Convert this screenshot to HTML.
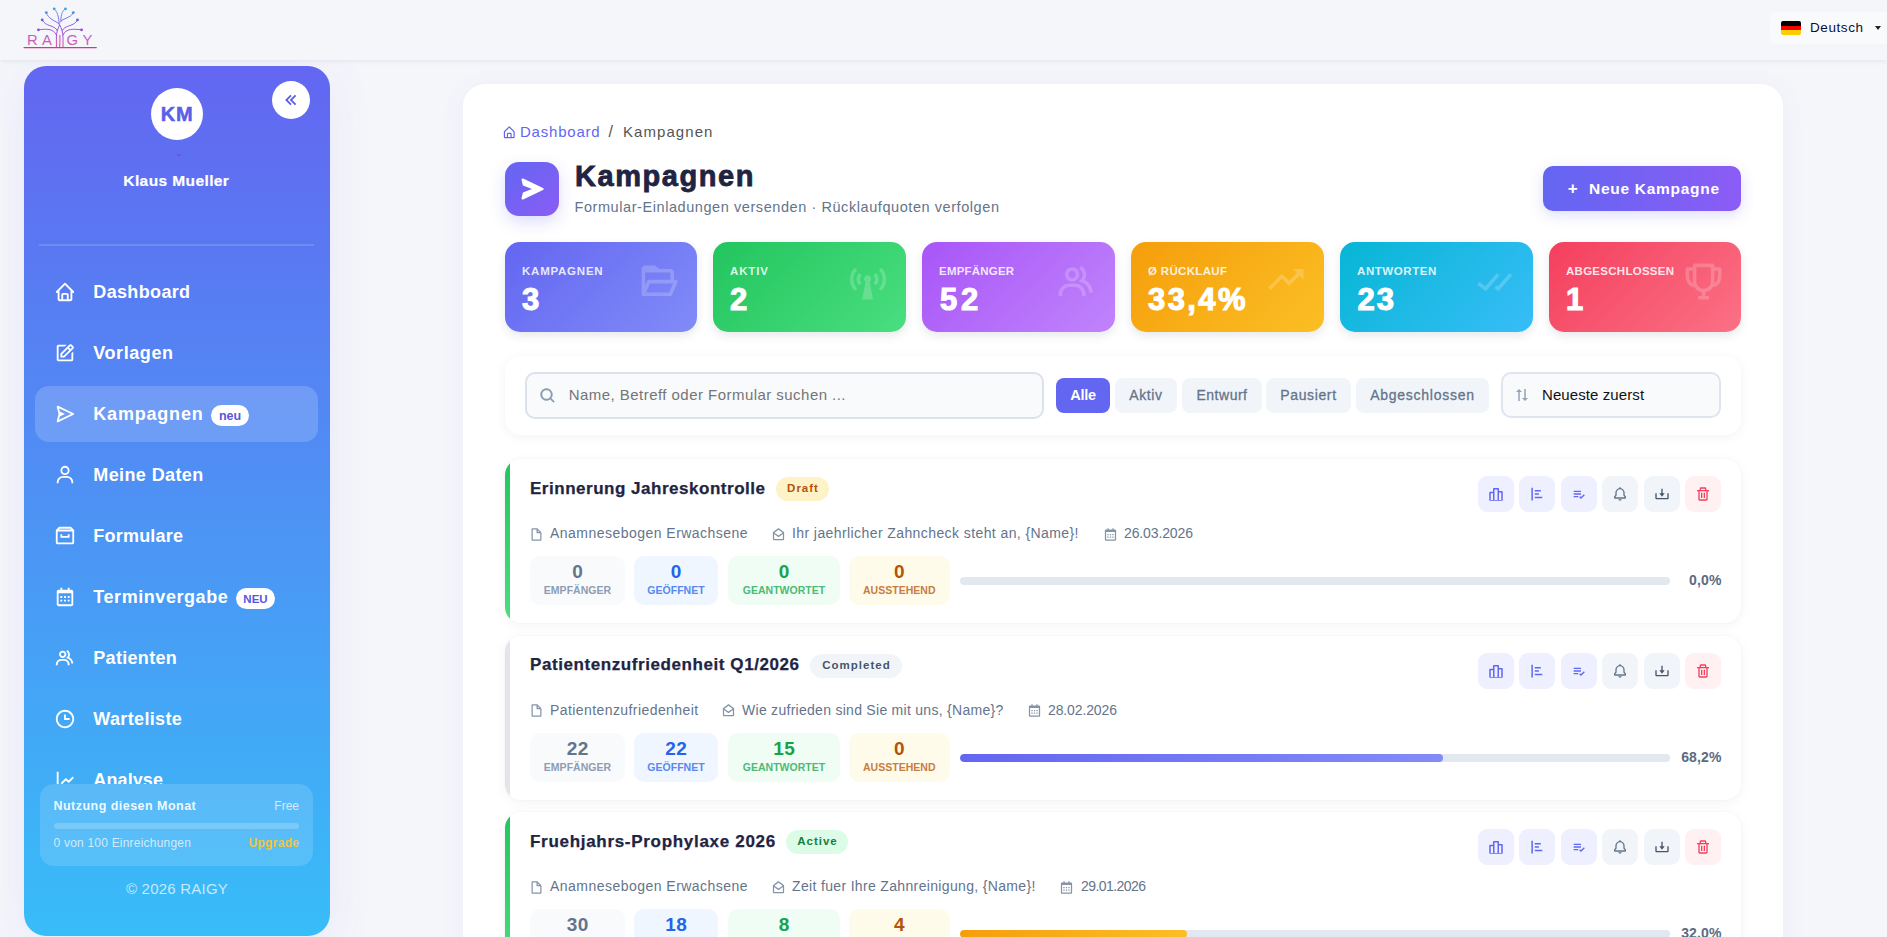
<!DOCTYPE html>
<html lang="de">
<head>
<meta charset="utf-8">
<title>Kampagnen – RAIGY</title>
<style>
*{box-sizing:border-box;margin:0;padding:0}
html,body{width:1887px;height:937px;overflow:hidden}
body{background:#f5f6fa;font-family:"Liberation Sans",sans-serif;color:#1e2442;position:relative}
.abs{position:absolute}
svg{display:block}
/* header */
#hdr{position:absolute;left:0;top:0;width:1887px;height:60px;background:#f5f6fa;box-shadow:0 1px 5px rgba(40,40,90,.09);z-index:2}
#logo{position:absolute;left:0;top:0}
#lang{position:absolute;left:1770px;top:12px;width:130px;height:32px;background:#f9fafb;border-radius:6px}
#lang .flag{position:absolute;left:11px;top:9px;width:20px;height:14px;border-radius:2px;overflow:hidden}
#lang .flag i{display:block;height:4.67px}
#lang span{position:absolute;left:40px;top:6.600px;font-size:13.5px;color:#0b1030;letter-spacing:.58px;line-height:17px}
#lang b{position:absolute;left:104.500px;top:13.800px;border:3.500px solid transparent;border-top:4px solid #222;width:0;height:0}
/* sidebar */
#side{position:absolute;left:24px;top:66px;width:306px;height:870px;border-radius:22px;background:linear-gradient(180deg,#6366f1,#38bdf8);box-shadow:0 8px 44px rgba(99,102,241,.10);overflow:hidden;color:#fff}
#avatar{position:absolute;left:127px;top:22px;width:52px;height:52px;border-radius:50%;background:#fff;color:#5b5fe8;font-weight:700;font-size:20px;text-align:center;line-height:52px;letter-spacing:.7px;-webkit-text-stroke:.5px #5b5fe8}
#collapse{position:absolute;left:248px;top:15px;width:38px;height:38px;border-radius:50%;background:#fff}
#uname{position:absolute;left:0;width:306px;top:105px;text-align:center;font-weight:700;font-size:15.5px;line-height:20px;letter-spacing:.4px;padding-right:1.400px;-webkit-text-stroke:.2px #fff}
#sdiv{position:absolute;left:15px;top:178px;width:275px;height:2px;background:rgba(120,160,245,.55)}
#nav{position:absolute;left:0;top:180px;width:306px;height:538px;overflow:hidden}
.ni{position:absolute;left:11px;width:283px;height:56px;border-radius:14px}
.ni.on{background:rgba(255,255,255,.17)}
.ni svg{position:absolute;left:19.300px;top:16.800px}
.ni .t{position:absolute;left:58.300px;top:15.500px;font-size:18px;font-weight:700;line-height:24px;white-space:nowrap;letter-spacing:.05px}
.ni .bd{position:absolute;top:19px;height:21px;border-radius:11px;background:#fff;color:#5b55e0;font-size:12.5px;font-weight:700;line-height:22px;text-align:center}
#usage{position:absolute;left:16px;top:718px;width:273px;height:82px;border-radius:14px;background:rgba(255,255,255,.14)}
#usage .a{position:absolute;left:13.500px;top:14px;font-size:12.5px;font-weight:700;line-height:16px;color:rgba(255,255,255,.92);letter-spacing:.47px}
#usage .b{position:absolute;right:14px;top:14px;font-size:12px;line-height:16px;color:rgba(255,255,255,.72)}
#usage .bar{position:absolute;left:14px;top:39px;width:245px;height:6px;border-radius:3px;background:rgba(255,255,255,.2)}
#usage .c{position:absolute;left:13.500px;top:51px;font-size:12px;line-height:16px;color:rgba(255,255,255,.72);letter-spacing:.21px}
#usage .d{position:absolute;right:14px;top:51px;font-size:12px;font-weight:700;line-height:16px;color:#f5c33c;letter-spacing:.3px;margin-right:-.3px}
#copy{position:absolute;left:0;width:306px;top:813px;text-align:center;font-size:15px;line-height:20px;color:rgba(255,255,255,.72);letter-spacing:.23px}
/* main */
#main{position:absolute;left:463px;top:84px;width:1320px;height:900px;background:#fff;border-radius:22px;box-shadow:0 4px 26px rgba(99,102,241,.06)}

/* main content (coords relative to #main: x-463, y-84) */
#bc{position:absolute;left:39px;top:38px;height:20px;font-size:15px;line-height:20px;white-space:nowrap}
#bc svg{position:absolute;left:-.5px;top:3px;width:14.500px;height:14.500px}
#bc .l{position:absolute;left:18px;top:0;color:#6366f1;letter-spacing:.78px}
#bc .s{position:absolute;left:106.500px;top:0;color:#555;font-size:16px}
#bc .c{position:absolute;left:121px;top:0;color:#555;letter-spacing:1.06px}
#ticon{position:absolute;left:42px;top:78px;width:54px;height:54px;border-radius:14px;background:linear-gradient(135deg,#6366f1,#8b5cf6);box-shadow:0 6px 16px rgba(99,102,241,.22)}
#ttl{position:absolute;left:112px;top:74px;font-size:29px;font-weight:700;-webkit-text-stroke:.8px #1e2442;line-height:36px;color:#1e2442;letter-spacing:1.55px;white-space:nowrap}
#sub{position:absolute;left:111.500px;top:113px;font-size:14.5px;line-height:20px;color:#64748b;letter-spacing:.57px;white-space:nowrap}
#newbtn{position:absolute;left:1080px;top:82px;width:198px;height:45px;border-radius:10px;background:linear-gradient(90deg,#6366f1,#8b5cf6);box-shadow:0 4px 14px rgba(99,102,241,.22);color:#fff;font-size:15.5px;font-weight:700;line-height:45px;white-space:nowrap}
#newbtn .p{position:absolute;left:24.700px;top:-.5px;font-weight:700;font-size:17px}
#newbtn .x{position:absolute;left:46px;top:-.5px;letter-spacing:.72px}
.sc{position:absolute;top:158px;width:192.4px;height:90px;border-radius:15px;color:#fff;box-shadow:0 4px 10px rgba(30,36,66,.10);overflow:hidden}
.sc .k{position:absolute;left:17px;top:21.500px;font-size:11.5px;font-weight:700;line-height:14px;color:rgba(255,255,255,.86);letter-spacing:.35px;white-space:nowrap}
.sc .v{position:absolute;left:17px;top:38.500px;font-size:31px;font-weight:700;line-height:38px;letter-spacing:.4px;white-space:nowrap;-webkit-text-stroke:1.1px #fff}
.sc svg{position:absolute;left:133px;top:18px;opacity:.2}
#fbar{position:absolute;left:42px;top:272px;width:1236px;height:79px;border-radius:16px;background:#fff;box-shadow:0 2px 12px rgba(0,0,0,.05)}
#srch{position:absolute;left:20px;top:16px;width:519px;height:47px;border-radius:10px;border:2px solid #dbe2ec;background:#f8fafc}
#srch svg{position:absolute;left:11.500px;top:12.500px;stroke:#8a9bb0;stroke-width:.5px}
#srch span{position:absolute;left:41.700px;top:11px;font-size:15px;line-height:20px;color:#757575;letter-spacing:.46px;white-space:nowrap}
.fp{position:absolute;top:22px;height:35px;border-radius:8px;background:#f1f5f9;color:#64748b;font-size:14px;line-height:34px;text-align:center;letter-spacing:.3px;white-space:nowrap;-webkit-text-stroke:.3px #64748b}
.fp.on{background:#6366f1;color:#fff;font-weight:700;letter-spacing:-.25px;font-size:14.5px;-webkit-text-stroke:0}
#sort{position:absolute;left:996px;top:16px;width:220px;height:46px;border-radius:10px;border:2px solid #dfe5ef;background:#f8fafc}
#sort svg{position:absolute;left:10px;top:11.500px}
#sort span{position:absolute;left:39px;top:11px;font-size:15px;line-height:20px;color:#111;letter-spacing:.09px;white-space:nowrap}

/* campaign cards */
.cc{position:absolute;left:42px;width:1236px;height:164px;border-radius:16px;background:#fff;box-shadow:0 2px 12px rgba(0,0,0,.05),0 0 0 1px rgba(0,0,0,.012);overflow:hidden}

.cc:after{content:"";position:absolute;left:0;top:0;width:5px;height:100%}.cc.g:after{background:linear-gradient(180deg,#22c55e,#4ade80)}
.cc.s:after{background:#e3e5eb}
.cc .h{position:absolute;left:25px;top:17.500px;-webkit-text-stroke:.25px #1e2442;font-size:17px;font-weight:700;line-height:24px;color:#1e2442;letter-spacing:.42px;white-space:nowrap}
.cc .st{position:absolute;top:18px;height:24px;border-radius:12px;font-size:11.5px;font-weight:700;line-height:22.500px;text-align:center;letter-spacing:1px;padding-left:1px}
.st.dr{background:#fef3c7;color:#b45309}
.st.co{background:#f1f5f9;color:#475569}
.st.ac{background:#dcfce7;color:#15803d}
.cc .m{position:absolute;top:64px;font-size:14px;line-height:20px;color:#64748b;letter-spacing:.36px;white-space:nowrap}
.cc .mi{position:absolute;top:67.500px;margin-left:-1.700px}
.sb{position:absolute;top:97px;height:49px;border-radius:10px;text-align:center}
.sb b{display:block;font-size:19px;line-height:22px;margin-top:5px;font-weight:700;letter-spacing:.6px;padding-left:.6px}
.sb i{display:block;font-style:normal;font-size:10.5px;line-height:13px;margin-top:1px;font-weight:700;letter-spacing:.03px}
.sb.a{left:25px;width:95px;background:#f8fafc}.sb.a b{color:#64748b}.sb.a i{color:#8e9db3}
.sb.b{left:129px;width:84px;background:#eff6ff}.sb.b b{color:#2563eb}.sb.b i{color:#5888f0}
.sb.c{left:223px;width:112px;background:#f0fdf4}.sb.c b{color:#16a34a}.sb.c i{color:#4dba75}
.sb.d{left:344px;width:100.500px;background:#fffbeb}.sb.d b{color:#b45309}.sb.d i{color:#c77d42}
.pb{position:absolute;left:455px;top:118px;width:710px;height:8px;border-radius:4px;background:#e2e8f0;overflow:hidden}
.pb u{display:block;height:8px;border-radius:4px}
.pc{position:absolute;right:19.500px;top:111px;font-size:14px;font-weight:700;line-height:20px;color:#5b6b82;letter-spacing:.12px}
.ab{position:absolute;top:17px;width:36px;height:36px;border-radius:9px}
.ab svg{position:absolute;left:8.700px;top:9px}.ab svg.s16{left:10px;top:10px}
.ab.p{background:#eef0ff}.ab.n{background:#f1f5f9}.ab.r{background:#fff0f1}
</style>
</head>
<body>
<div id="hdr">
  <svg id="logo" width="110" height="56" viewBox="0 0 110 56">
    <defs><linearGradient id="lg" gradientUnits="userSpaceOnUse" x1="0" y1="8" x2="0" y2="48"><stop offset="0" stop-color="#38a8ea"/><stop offset=".3" stop-color="#6d5be6"/><stop offset=".6" stop-color="#9a3fd6"/><stop offset="1" stop-color="#db3486"/></linearGradient></defs>
    <g fill="none" stroke="url(#lg)" stroke-width=".9" stroke-linecap="round">
      <path d="M24 47.600h72.300" stroke-width="1.100"/>
      <path d="M56.400 47.600V37c0-5 1.600-8.500 3-11.500M63 47.600V37c0-5-1.600-8.500-3-11.500M59.700 45v2.600"/>
      <path d="M59.400 25.500c-.6-5-.6-12.500-5.200-16.700M60.800 22c.2-5 .2-10.500 4.700-13.200"/>
      <path d="M58.800 23.500c-5-3.500-10.500-4.500-12.500-10.900M61.500 20.500c5-3 10-3.500 11.800-7.900"/>
      <path d="M57.300 30.500c-3-6-12-3.500-15.100-10.600M62.200 30.500c3-6 12-3.500 15.300-10.600"/>
      <path d="M56.500 35c-3-7-11-6-18.100-5.200M62.900 35c3-7 11-6 18.700-5.200"/>
    </g>
    <g fill="url(#lg)"><circle cx="54.200" cy="8.800" r="1.400"/><circle cx="65.500" cy="8.800" r="1.400"/><circle cx="46.300" cy="12.600" r="1.400"/><circle cx="73.300" cy="12.600" r="1.400"/><circle cx="42.200" cy="19.900" r="1.400"/><circle cx="77.500" cy="19.900" r="1.400"/><circle cx="38.400" cy="29.800" r="1.400"/><circle cx="81.600" cy="29.800" r="1.400"/></g>
    <g fill="url(#lg)" font-family="Liberation Sans, sans-serif" font-size="14.800" opacity=".8"><text x="27" y="45.300">R</text><text x="42" y="45.300">A</text><text x="57.650" y="45.300" opacity=".75">I</text><text x="66.500" y="45.300">G</text><text x="82.500" y="45.300">Y</text></g>
  </svg>
  <div id="lang"><div class="flag"><i style="background:#000"></i><i style="background:#f00"></i><i style="background:#fc0"></i></div><span>Deutsch</span><b></b></div>
</div>

<div id="side">
  <div id="avatar">KM</div>
  <div id="collapse"><svg width="22" height="22" viewBox="0 0 24 24" fill="#5b5fe8" style="position:absolute;left:7.850px;top:8.300px"><path d="m12.707 7.707-1.414-1.414L5.586 12l5.707 5.707 1.414-1.414L8.414 12z M16.293 6.293 10.586 12l5.707 5.707 1.414-1.414L13.414 12l4.293-4.293z"/></svg></div>
  <div style="position:absolute;left:151.500px;top:88px;width:0;height:0;border:3.500px solid transparent;border-top:3.500px solid rgba(110,70,235,.55)"></div>
  <div id="uname">Klaus Mueller</div>
  <div id="sdiv"></div>
  <div id="nav">
    <div class="ni" style="top:18px"><svg width="22" height="22" viewBox="0 0 24 24" fill="#fff"><path d="M3 13h1v7c0 1.103.897 2 2 2h12c1.103 0 2-.897 2-2v-7h1a1 1 0 0 0 .707-1.707l-9-9a.999.999 0 0 0-1.414 0l-9 9A1 1 0 0 0 3 13zm7 7v-5h4v5h-4zm2-15.586 6 6V15l.001 5H16v-5c0-1.103-.897-2-2-2h-4c-1.103 0-2 .897-2 2v5H6v-9.586l6-6z"/></svg><span class="t" style="letter-spacing:0.35px">Dashboard</span></div>
    <div class="ni" style="top:79px"><svg width="22" height="22" viewBox="0 0 24 24" fill="#fff"><path d="m7 17.013 4.413-.015 9.632-9.540c.378-.378.586-.880.586-1.414s-.208-1.036-.586-1.414l-1.586-1.586c-.756-.756-2.075-.752-2.825-.003L7 12.583v4.430zM18.045 4.458l1.589 1.583-1.597 1.582-1.586-1.585 1.594-1.580zM9 13.417l6.030-5.973 1.586 1.586-6.029 5.971L9 15.006v-1.589z M5 21h14c1.103 0 2-.897 2-2v-8.668l-2 2V19H8.158c-.026 0-.053.010-.079.010-.033 0-.066-.009-.100-.010H5V5h6.847l2-2H5c-1.103 0-2 .897-2 2v14c0 1.103.897 2 2 2z"/></svg><span class="t" style="letter-spacing:0.57px">Vorlagen</span></div>
    <div class="ni on" style="top:140px"><svg width="22" height="22" viewBox="0 0 24 24" fill="#fff"><path d="m21.426 11.095-17-8A.999.999 0 0 0 3.030 4.242L4.969 12 3.030 19.758a.998.998 0 0 0 1.396 1.147l17-8a1 1 0 0 0 0-1.810zM5.481 18.197l.839-3.357L12 12 6.320 9.160l-.839-3.357L18.651 12l-13.170 6.197z"/></svg><span class="t" style="letter-spacing:0.8px">Kampagnen</span><span class="bd" style="left:176px;width:38px">neu</span></div>
    <div class="ni" style="top:201px"><svg width="22" height="22" viewBox="0 0 24 24" fill="#fff"><path d="M12 2a5 5 0 1 0 5 5 5 5 0 0 0-5-5zm0 8a3 3 0 1 1 3-3 3 3 0 0 1-3 3zm9 11v-1a7 7 0 0 0-7-7h-4a7 7 0 0 0-7 7v1h2v-1a5 5 0 0 1 5-5h4a5 5 0 0 1 5 5v1z"/></svg><span class="t" style="letter-spacing:0.39px">Meine Daten</span></div>
    <div class="ni" style="top:262px"><svg width="22" height="22" viewBox="0 0 24 24" fill="#fff"><path d="M21.706 5.292l-2.999-2.999A.996.996 0 0 0 18 2H6a.996.996 0 0 0-.707.293L2.294 5.292A.994.994 0 0 0 2 6v13c0 1.103.897 2 2 2h16c1.103 0 2-.897 2-2V6a.994.994 0 0 0-.294-.708zM6.414 4h11.172l1 1H5.414l1-1zM4 19V7h16l.002 12H4z M15 12H9v-2H7v4h10v-4h-2z"/></svg><span class="t" style="letter-spacing:0.21px">Formulare</span></div>
    <div class="ni" style="top:323px"><svg width="22" height="22" viewBox="0 0 24 24" fill="#fff"><path d="M7 11h2v2H7zm0 4h2v2H7zm4-4h2v2h-2zm0 4h2v2h-2zm4-4h2v2h-2zm0 4h2v2h-2z M5 22h14c1.103 0 2-.897 2-2V6c0-1.103-.897-2-2-2h-2V2h-2v2H9V2H7v2H5c-1.103 0-2 .897-2 2v14c0 1.103.897 2 2 2zM19 8l.001 12H5V8h14z"/></svg><span class="t" style="letter-spacing:0.56px">Terminvergabe</span><span class="bd" style="left:201px;width:39px;font-size:11.5px">NEU</span></div>
    <div class="ni" style="top:384px"><svg width="22" height="22" viewBox="0 0 24 24" fill="#fff"><path d="M16.604 11.048a5.670 5.670 0 0 0 .751-3.440c-.179-1.784-1.175-3.361-2.803-4.440l-1.105 1.666c1.119.742 1.800 1.799 1.918 2.974a3.693 3.693 0 0 1-1.072 2.986l-1.192 1.192 1.618.475C18.951 13.701 19 17.957 19 18h2c0-1.789-.956-5.285-4.396-6.952z M9.500 12c2.206 0 4-1.794 4-4s-1.794-4-4-4-4 1.794-4 4 1.794 4 4 4zm0-6c1.103 0 2 .897 2 2s-.897 2-2 2-2-.897-2-2 .897-2 2-2zm1.500 7H8c-3.309 0-6 2.691-6 6v1h2v-1c0-2.206 1.794-4 4-4h3c2.206 0 4 1.794 4 4v1h2v-1c0-3.309-2.691-6-6-6z"/></svg><span class="t" style="letter-spacing:0.31px">Patienten</span></div>
    <div class="ni" style="top:445px"><svg width="22" height="22" viewBox="0 0 24 24" fill="#fff"><path d="M12 2C6.486 2 2 6.486 2 12s4.486 10 10 10 10-4.486 10-10S17.514 2 12 2zm0 18c-4.411 0-8-3.589-8-8s3.589-8 8-8 8 3.589 8 8-3.589 8-8 8z M13 7h-2v6h6v-2h-4z"/></svg><span class="t" style="letter-spacing:0.35px">Warteliste</span></div>
    <div class="ni" style="top:506px"><svg width="22" height="22" viewBox="0 0 24 24" fill="#fff"><path d="M3 3v17a1 1 0 0 0 1 1h17v-2H5V3H3z M15.293 14.707a.999.999 0 0 0 1.414 0l5-5-1.414-1.414L16 12.586l-2.293-2.293a.999.999 0 0 0-1.414 0l-5 5 1.414 1.414L13 12.414l2.293 2.293z"/></svg><span class="t" style="letter-spacing:0.11px">Analyse</span></div>
  </div>
  <div id="usage"><span class="a">Nutzung diesen Monat</span><span class="b">Free</span><div class="bar"></div><span class="c">0 von 100 Einreichungen</span><span class="d">Upgrade</span></div>
  <div id="copy">© 2026 RAIGY</div>
</div>

<div id="main">

  <div id="bc">
    <svg width="15" height="15" viewBox="0 0 24 24" fill="#6366f1"><path d="M5 22h14a2 2 0 0 0 2-2v-9a1 1 0 0 0-.290-.710l-8-8a1 1 0 0 0-1.410 0l-8 8A1 1 0 0 0 3 11v9a2 2 0 0 0 2 2zm5-2v-5h4v5zm-5-8.590 7-7 7 7V20h-3v-5a2 2 0 0 0-2-2h-4a2 2 0 0 0-2 2v5H5z"/></svg>
    <span class="l">Dashboard</span><span class="s">/</span><span class="c">Kampagnen</span>
  </div>
  <div id="ticon"><svg width="28" height="28" viewBox="0 0 24 24" fill="#fff" style="position:absolute;left:13px;top:13px"><path d="m21.426 11.095-17-8A1 1 0 0 0 3.030 4.242l1.212 4.849L12 12l-7.758 2.909-1.212 4.849a.998.998 0 0 0 1.396 1.147l17-8a1 1 0 0 0 0-1.810z"/></svg></div>
  <div id="ttl">Kampagnen</div>
  <div id="sub">Formular-Einladungen versenden · Rücklaufquoten verfolgen</div>
  <div id="newbtn"><span class="p">+</span><span class="x">Neue Kampagne</span></div>

  <div class="sc" style="left:42px;width:192px;background:linear-gradient(135deg,#6366f1,#818cf8)"><svg width="43.2" height="43.2" viewBox="0 0 24 24" fill="#fff"><path d="M2.165 19.551c.186.280.499.449.835.449h15c.400 0 .762-.238.919-.606l3-7A.998.998 0 0 0 21 11h-1V7c0-1.103-.897-2-2-2h-6.100L9.616 3.213A.997.997 0 0 0 9 3H4c-1.103 0-2 .897-2 2v14h.007a1 1 0 0 0 .158.551zM17.341 18H4.517l2.143-5h12.824l-2.143 5zM18 7v4H6c-.400 0-.762.238-.919.606L4 14.129V7h14z"/></svg><span class="k" style="letter-spacing:0.76px">KAMPAGNEN</span><span class="v">3</span></div>
  <div class="sc" style="left:250px;width:193px;background:linear-gradient(135deg,#22c55e,#4ade80)"><svg width="43.2" height="43.2" viewBox="0 0 24 24" fill="#fff"><path d="m19.707 4.293-1.414 1.414c2.733 2.733 2.733 7.353 0 10.086l1.414 1.414c3.500-3.500 3.500-9.414 0-12.914zm-4.414 4.414c.566.566.879 1.292.879 2.043s-.313 1.477-.879 2.043l1.414 1.414c.944-.943 1.465-2.172 1.465-3.457s-.521-2.514-1.465-3.457l-1.414 1.414zm-9.086-3L4.793 4.293c-3.500 3.500-3.500 9.414 0 12.914l1.414-1.414c-2.733-2.733-2.733-7.353 0-10.086z M7.293 7.293c-.944.943-1.465 2.172-1.465 3.457s.521 2.514 1.465 3.457l1.414-1.414c-.566-.566-.879-1.292-.879-2.043s.313-1.477.879-2.043L7.293 7.293zM14 10.500a2 2 0 1 0-3.180 1.602L9.003 22h5.994l-1.817-9.898A1.990 1.990 0 0 0 14 10.500z"/></svg><span class="k" style="letter-spacing:0.88px">AKTIV</span><span class="v">2</span></div>
  <div class="sc" style="left:459px;width:193px;background:linear-gradient(135deg,#a855f7,#c084fc)"><svg width="43.2" height="43.2" viewBox="0 0 24 24" fill="#fff"><path d="M16.604 11.048a5.670 5.670 0 0 0 .751-3.440c-.179-1.784-1.175-3.361-2.803-4.440l-1.105 1.666c1.119.742 1.800 1.799 1.918 2.974a3.693 3.693 0 0 1-1.072 2.986l-1.192 1.192 1.618.475C18.951 13.701 19 17.957 19 18h2c0-1.789-.956-5.285-4.396-6.952z M9.500 12c2.206 0 4-1.794 4-4s-1.794-4-4-4-4 1.794-4 4 1.794 4 4 4zm0-6c1.103 0 2 .897 2 2s-.897 2-2 2-2-.897-2-2 .897-2 2-2zm1.500 7H8c-3.309 0-6 2.691-6 6v1h2v-1c0-2.206 1.794-4 4-4h3c2.206 0 4 1.794 4 4v1h2v-1c0-3.309-2.691-6-6-6z"/></svg><span class="k" style="letter-spacing:0.21px">EMPFÄNGER</span><span class="v" style="letter-spacing:3.700px;left:18px">52</span></div>
  <div class="sc" style="left:668px;width:193px;background:linear-gradient(135deg,#f59e0b,#fbbf24)"><svg width="43.2" height="43.2" viewBox="0 0 24 24" fill="#fff"><path d="m10 10.414 4 4 5.707-5.707L22 11V5h-6l2.293 2.293L14 11.586l-4-4-7.707 7.707 1.414 1.414z"/></svg><span class="k" style="letter-spacing:0.33px">Ø RÜCKLAUF</span><span class="v" style="letter-spacing:2.400px">33,4%</span></div>
  <div class="sc" style="left:877px;width:193px;background:linear-gradient(135deg,#06b6d4,#38bdf8)"><svg width="43.2" height="43.2" viewBox="0 0 24 24" fill="#fff"><path d="m2.394 13.742 4.743 3.620 7.616-8.704-1.506-1.316-6.384 7.296-3.257-2.486zm19.359-5.084-1.506-1.316-6.369 7.279-.753-.602-1.250 1.562 2.247 1.798z"/></svg><span class="k" style="letter-spacing:0.58px">ANTWORTEN</span><span class="v" style="letter-spacing:1.900px;left:17.500px">23</span></div>
  <div class="sc" style="left:1086px;width:192px;background:linear-gradient(135deg,#f43f5e,#fb7185)"><svg width="43.2" height="43.2" viewBox="0 0 24 24" fill="#fff"><path d="M21 4h-3V3a1 1 0 0 0-1-1H7a1 1 0 0 0-1 1v1H3a1 1 0 0 0-1 1v3c0 4.310 1.799 6.910 4.819 7.012A6.001 6.001 0 0 0 11 17.910V20H9v2h6v-2h-2v-2.090a6.010 6.010 0 0 0 4.181-2.898C20.201 14.910 22 12.310 22 8V5a1 1 0 0 0-1-1zM4 8V6h2v6.830C4.216 12.078 4 9.299 4 8zm8 8c-2.206 0-4-1.794-4-4V4h8v8c0 2.206-1.794 4-4 4zm6-3.170V6h2v2c0 1.299-.216 4.078-2 4.830z"/></svg><span class="k" style="letter-spacing:0.27px">ABGESCHLOSSEN</span><span class="v">1</span></div>

  <div id="fbar">
    <div id="srch"><svg width="18" height="18" viewBox="0 0 24 24" fill="#8a9bb0"><path d="M10 18a7.952 7.952 0 0 0 4.897-1.688l4.396 4.396 1.414-1.414-4.396-4.396A7.952 7.952 0 0 0 18 10c0-4.411-3.589-8-8-8s-8 3.589-8 8 3.589 8 8 8zm0-14c3.309 0 6 2.691 6 6s-2.691 6-6 6-6-2.691-6-6 2.691-6 6-6z"/></svg><span>Name, Betreff oder Formular suchen ...</span></div>
    <div class="fp on" style="left:551px;width:54px">Alle</div>
    <div class="fp" style="left:610px;width:62px;letter-spacing:0.64px">Aktiv</div>
    <div class="fp" style="left:677px;width:80px;letter-spacing:0.51px">Entwurf</div>
    <div class="fp" style="left:761px;width:85px;letter-spacing:0.62px">Pausiert</div>
    <div class="fp" style="left:851px;width:133px;letter-spacing:0.75px">Abgeschlossen</div>
    <div id="sort"><svg width="18" height="18" viewBox="0 0 24 24" fill="#94a3b8"><path d="M7 20h2V8h3L8 4 4 8h3zm13-4h-3V4h-2v12h-3l4 4z"/></svg><span>Neueste zuerst</span></div>
  </div>
  <div class="cc g" style="top:375px">
    <span class="h" style="letter-spacing:0.52px">Erinnerung Jahreskontrolle</span><span class="st dr" style="left:271px;width:53px">Draft</span>
    <svg class="mi" style="left:26px" width="15" height="15" viewBox="0 0 24 24" fill="#8494a8"><path d="M19.903 8.586a.997.997 0 0 0-.196-.293l-6-6a.997.997 0 0 0-.293-.196c-.030-.014-.062-.022-.094-.033a.991.991 0 0 0-.259-.051C13.040 2.011 13.021 2 13 2H6c-1.103 0-2 .897-2 2v16c0 1.103.897 2 2 2h12c1.103 0 2-.897 2-2V9c0-.021-.011-.040-.013-.062a.952.952 0 0 0-.051-.259c-.010-.032-.019-.063-.033-.093zM16.586 8H14V5.414L16.586 8zM6 20V4h6v5a1 1 0 0 0 1 1h5l.002 10H6z"/></svg><span class="m" style="left:45px;letter-spacing:0.47px">Anamnesebogen Erwachsene</span>
    <svg class="mi" style="left:268px" width="15" height="15" viewBox="0 0 24 24" fill="#8494a8"><path d="M20.563 8.184l-8-6a1 1 0 0 0-1.125 0l-8 6A1 1 0 0 0 3 9v10c0 1.103.897 2 2 2h14c1.103 0 2-.897 2-2V9a1 1 0 0 0-.437-.816zM12 4.217l6.552 4.914L12 13.780 5.448 9.131 12 4.217zM5 19v-7.734l6.422 4.556a.998.998 0 0 0 1.156 0L19 11.266 19.002 19H5z"/></svg><span class="m" style="left:287px;letter-spacing:0.41px">Ihr jaehrlicher Zahncheck steht an, {Name}!</span>
    <svg class="mi" style="left:600px" width="15" height="15" viewBox="0 0 24 24" fill="#8494a8"><path d="M7 11h2v2H7zm0 4h2v2H7zm4-4h2v2h-2zm0 4h2v2h-2zm4-4h2v2h-2zm0 4h2v2h-2z M5 22h14c1.103 0 2-.897 2-2V6c0-1.103-.897-2-2-2h-2V2h-2v2H9V2H7v2H5c-1.103 0-2 .897-2 2v14c0 1.103.897 2 2 2zM19 8l.001 12H5V8h14z"/></svg><span class="m" style="left:619px;letter-spacing:-0.12px">26.03.2026</span>
    <div class="sb a"><b>0</b><i>EMPFÄNGER</i></div>
    <div class="sb b"><b>0</b><i>GEÖFFNET</i></div>
    <div class="sb c"><b>0</b><i>GEANTWORTET</i></div>
    <div class="sb d"><b>0</b><i>AUSSTEHEND</i></div>
    <div class="pb"><u style="width:0px;background:none"></u></div><span class="pc">0,0%</span>

    <div class="ab p" style="left:973px"><svg width="18" height="18" viewBox="0 0 24 24" fill="#6366f1"><path d="M20 8h-4V5a1 1 0 0 0-1-1H9a1 1 0 0 0-1 1v4H4a1 1 0 0 0-1 1v10a1 1 0 0 0 1 1h16a1 1 0 0 0 1-1V9a1 1 0 0 0-1-1zM5 11h3v9H5v-9zm5 9V6h4v14h-4zm9 0h-3V10h3v10z"/></svg></div>
    <div class="ab p" style="left:1014px"><svg width="18" height="18" viewBox="0 0 24 24" fill="#6366f1"><path d="M4.500 3.500h2v17h-2z M9 6.500h8v2H9zm0 4.500h5.500v2H9zm0 4.500h10v2H9z"/></svg></div>
    <div class="ab p" style="left:1056px"><svg class="s16" width="16" height="16" viewBox="0 0 24 24" fill="#6366f1"><path d="M4 7h11v2H4zm0 4h11v2H4zm0 4h7v2H4zm15.299-2.708-4.300 4.291-1.292-1.291-1.414 1.415 2.706 2.704 5.712-5.703z"/></svg></div>
    <div class="ab n" style="left:1097px"><svg class="s16" width="16" height="16" viewBox="0 0 24 24" fill="#64748b"><path d="M19 13.586V10c0-3.217-2.185-5.927-5.145-6.742C13.562 2.520 12.846 2 12 2s-1.562.520-1.855 1.258C7.185 4.074 5 6.783 5 10v3.586l-1.707 1.707A.996.996 0 0 0 3 16v2a1 1 0 0 0 1 1h16a1 1 0 0 0 1-1v-2a.996.996 0 0 0-.293-.707L19 13.586zM19 17H5v-.586l1.707-1.707A.996.996 0 0 0 7 14v-4c0-2.757 2.243-5 5-5s5 2.243 5 5v4c0 .266.105.520.293.707L19 16.414V17zm-7 5a2.980 2.980 0 0 0 2.818-2H9.182A2.980 2.980 0 0 0 12 22z"/></svg></div>
    <div class="ab n" style="left:1139px"><svg class="s16" width="16" height="16" viewBox="0 0 24 24" fill="#475569"><path d="m12 16 4-5h-3V4h-2v7H8z M20 18H4v-7H2v7c0 1.103.897 2 2 2h16c1.103 0 2-.897 2-2v-7h-2v7z"/></svg></div>
    <div class="ab r" style="left:1180px"><svg class="s16" width="16" height="16" viewBox="0 0 24 24" fill="#f43f5e"><path d="M5 20a2 2 0 0 0 2 2h10a2 2 0 0 0 2-2V8h2V6h-4V4a2 2 0 0 0-2-2H9a2 2 0 0 0-2 2v2H3v2h2zM9 4h6v2H9zM8 8h9v12H7V8z M9 10h2v8H9zm4 0h2v8h-2z"/></svg></div>
  </div>
  <div class="cc s" style="top:551.5px">
    <span class="h" style="letter-spacing:0.58px">Patientenzufriedenheit Q1/2026</span><span class="st co" style="left:305px;width:92px">Completed</span>
    <svg class="mi" style="left:26px" width="15" height="15" viewBox="0 0 24 24" fill="#8494a8"><path d="M19.903 8.586a.997.997 0 0 0-.196-.293l-6-6a.997.997 0 0 0-.293-.196c-.030-.014-.062-.022-.094-.033a.991.991 0 0 0-.259-.051C13.040 2.011 13.021 2 13 2H6c-1.103 0-2 .897-2 2v16c0 1.103.897 2 2 2h12c1.103 0 2-.897 2-2V9c0-.021-.011-.040-.013-.062a.952.952 0 0 0-.051-.259c-.010-.032-.019-.063-.033-.093zM16.586 8H14V5.414L16.586 8zM6 20V4h6v5a1 1 0 0 0 1 1h5l.002 10H6z"/></svg><span class="m" style="left:45px;letter-spacing:0.42px">Patientenzufriedenheit</span>
    <svg class="mi" style="left:218px" width="15" height="15" viewBox="0 0 24 24" fill="#8494a8"><path d="M20.563 8.184l-8-6a1 1 0 0 0-1.125 0l-8 6A1 1 0 0 0 3 9v10c0 1.103.897 2 2 2h14c1.103 0 2-.897 2-2V9a1 1 0 0 0-.437-.816zM12 4.217l6.552 4.914L12 13.780 5.448 9.131 12 4.217zM5 19v-7.734l6.422 4.556a.998.998 0 0 0 1.156 0L19 11.266 19.002 19H5z"/></svg><span class="m" style="left:237px;letter-spacing:0.28px">Wie zufrieden sind Sie mit uns, {Name}?</span>
    <svg class="mi" style="left:524px" width="15" height="15" viewBox="0 0 24 24" fill="#8494a8"><path d="M7 11h2v2H7zm0 4h2v2H7zm4-4h2v2h-2zm0 4h2v2h-2zm4-4h2v2h-2zm0 4h2v2h-2z M5 22h14c1.103 0 2-.897 2-2V6c0-1.103-.897-2-2-2h-2V2h-2v2H9V2H7v2H5c-1.103 0-2 .897-2 2v14c0 1.103.897 2 2 2zM19 8l.001 12H5V8h14z"/></svg><span class="m" style="left:543px;letter-spacing:-0.12px">28.02.2026</span>
    <div class="sb a"><b>22</b><i>EMPFÄNGER</i></div>
    <div class="sb b"><b>22</b><i>GEÖFFNET</i></div>
    <div class="sb c"><b>15</b><i>GEANTWORTET</i></div>
    <div class="sb d"><b>0</b><i>AUSSTEHEND</i></div>
    <div class="pb"><u style="width:483px;background:linear-gradient(90deg,#6366f1,#818cf8)"></u></div><span class="pc">68,2%</span>

    <div class="ab p" style="left:973px"><svg width="18" height="18" viewBox="0 0 24 24" fill="#6366f1"><path d="M20 8h-4V5a1 1 0 0 0-1-1H9a1 1 0 0 0-1 1v4H4a1 1 0 0 0-1 1v10a1 1 0 0 0 1 1h16a1 1 0 0 0 1-1V9a1 1 0 0 0-1-1zM5 11h3v9H5v-9zm5 9V6h4v14h-4zm9 0h-3V10h3v10z"/></svg></div>
    <div class="ab p" style="left:1014px"><svg width="18" height="18" viewBox="0 0 24 24" fill="#6366f1"><path d="M4.500 3.500h2v17h-2z M9 6.500h8v2H9zm0 4.500h5.500v2H9zm0 4.500h10v2H9z"/></svg></div>
    <div class="ab p" style="left:1056px"><svg class="s16" width="16" height="16" viewBox="0 0 24 24" fill="#6366f1"><path d="M4 7h11v2H4zm0 4h11v2H4zm0 4h7v2H4zm15.299-2.708-4.300 4.291-1.292-1.291-1.414 1.415 2.706 2.704 5.712-5.703z"/></svg></div>
    <div class="ab n" style="left:1097px"><svg class="s16" width="16" height="16" viewBox="0 0 24 24" fill="#64748b"><path d="M19 13.586V10c0-3.217-2.185-5.927-5.145-6.742C13.562 2.520 12.846 2 12 2s-1.562.520-1.855 1.258C7.185 4.074 5 6.783 5 10v3.586l-1.707 1.707A.996.996 0 0 0 3 16v2a1 1 0 0 0 1 1h16a1 1 0 0 0 1-1v-2a.996.996 0 0 0-.293-.707L19 13.586zM19 17H5v-.586l1.707-1.707A.996.996 0 0 0 7 14v-4c0-2.757 2.243-5 5-5s5 2.243 5 5v4c0 .266.105.520.293.707L19 16.414V17zm-7 5a2.980 2.980 0 0 0 2.818-2H9.182A2.980 2.980 0 0 0 12 22z"/></svg></div>
    <div class="ab n" style="left:1139px"><svg class="s16" width="16" height="16" viewBox="0 0 24 24" fill="#475569"><path d="m12 16 4-5h-3V4h-2v7H8z M20 18H4v-7H2v7c0 1.103.897 2 2 2h16c1.103 0 2-.897 2-2v-7h-2v7z"/></svg></div>
    <div class="ab r" style="left:1180px"><svg class="s16" width="16" height="16" viewBox="0 0 24 24" fill="#f43f5e"><path d="M5 20a2 2 0 0 0 2 2h10a2 2 0 0 0 2-2V8h2V6h-4V4a2 2 0 0 0-2-2H9a2 2 0 0 0-2 2v2H3v2h2zM9 4h6v2H9zM8 8h9v12H7V8z M9 10h2v8H9zm4 0h2v8h-2z"/></svg></div>
  </div>
  <div class="cc g" style="top:728px">
    <span class="h" style="letter-spacing:0.7px">Fruehjahrs-Prophylaxe 2026</span><span class="st ac" style="left:281px;width:62px">Active</span>
    <svg class="mi" style="left:26px" width="15" height="15" viewBox="0 0 24 24" fill="#8494a8"><path d="M19.903 8.586a.997.997 0 0 0-.196-.293l-6-6a.997.997 0 0 0-.293-.196c-.030-.014-.062-.022-.094-.033a.991.991 0 0 0-.259-.051C13.040 2.011 13.021 2 13 2H6c-1.103 0-2 .897-2 2v16c0 1.103.897 2 2 2h12c1.103 0 2-.897 2-2V9c0-.021-.011-.040-.013-.062a.952.952 0 0 0-.051-.259c-.010-.032-.019-.063-.033-.093zM16.586 8H14V5.414L16.586 8zM6 20V4h6v5a1 1 0 0 0 1 1h5l.002 10H6z"/></svg><span class="m" style="left:45px;letter-spacing:0.47px">Anamnesebogen Erwachsene</span>
    <svg class="mi" style="left:268px" width="15" height="15" viewBox="0 0 24 24" fill="#8494a8"><path d="M20.563 8.184l-8-6a1 1 0 0 0-1.125 0l-8 6A1 1 0 0 0 3 9v10c0 1.103.897 2 2 2h14c1.103 0 2-.897 2-2V9a1 1 0 0 0-.437-.816zM12 4.217l6.552 4.914L12 13.780 5.448 9.131 12 4.217zM5 19v-7.734l6.422 4.556a.998.998 0 0 0 1.156 0L19 11.266 19.002 19H5z"/></svg><span class="m" style="left:287px;letter-spacing:0.34px">Zeit fuer Ihre Zahnreinigung, {Name}!</span>
    <svg class="mi" style="left:556px" width="15" height="15" viewBox="0 0 24 24" fill="#8494a8"><path d="M7 11h2v2H7zm0 4h2v2H7zm4-4h2v2h-2zm0 4h2v2h-2zm4-4h2v2h-2zm0 4h2v2h-2z M5 22h14c1.103 0 2-.897 2-2V6c0-1.103-.897-2-2-2h-2V2h-2v2H9V2H7v2H5c-1.103 0-2 .897-2 2v14c0 1.103.897 2 2 2zM19 8l.001 12H5V8h14z"/></svg><span class="m" style="left:576.100px;letter-spacing:-.57px">29.01.2026</span>
    <div class="sb a"><b>30</b><i>EMPFÄNGER</i></div>
    <div class="sb b"><b>18</b><i>GEÖFFNET</i></div>
    <div class="sb c"><b>8</b><i>GEANTWORTET</i></div>
    <div class="sb d"><b>4</b><i>AUSSTEHEND</i></div>
    <div class="pb"><u style="width:227px;background:linear-gradient(90deg,#f59e0b,#fbbf24)"></u></div><span class="pc">32,0%</span>

    <div class="ab p" style="left:973px"><svg width="18" height="18" viewBox="0 0 24 24" fill="#6366f1"><path d="M20 8h-4V5a1 1 0 0 0-1-1H9a1 1 0 0 0-1 1v4H4a1 1 0 0 0-1 1v10a1 1 0 0 0 1 1h16a1 1 0 0 0 1-1V9a1 1 0 0 0-1-1zM5 11h3v9H5v-9zm5 9V6h4v14h-4zm9 0h-3V10h3v10z"/></svg></div>
    <div class="ab p" style="left:1014px"><svg width="18" height="18" viewBox="0 0 24 24" fill="#6366f1"><path d="M4.500 3.500h2v17h-2z M9 6.500h8v2H9zm0 4.500h5.500v2H9zm0 4.500h10v2H9z"/></svg></div>
    <div class="ab p" style="left:1056px"><svg class="s16" width="16" height="16" viewBox="0 0 24 24" fill="#6366f1"><path d="M4 7h11v2H4zm0 4h11v2H4zm0 4h7v2H4zm15.299-2.708-4.300 4.291-1.292-1.291-1.414 1.415 2.706 2.704 5.712-5.703z"/></svg></div>
    <div class="ab n" style="left:1097px"><svg class="s16" width="16" height="16" viewBox="0 0 24 24" fill="#64748b"><path d="M19 13.586V10c0-3.217-2.185-5.927-5.145-6.742C13.562 2.520 12.846 2 12 2s-1.562.520-1.855 1.258C7.185 4.074 5 6.783 5 10v3.586l-1.707 1.707A.996.996 0 0 0 3 16v2a1 1 0 0 0 1 1h16a1 1 0 0 0 1-1v-2a.996.996 0 0 0-.293-.707L19 13.586zM19 17H5v-.586l1.707-1.707A.996.996 0 0 0 7 14v-4c0-2.757 2.243-5 5-5s5 2.243 5 5v4c0 .266.105.520.293.707L19 16.414V17zm-7 5a2.980 2.980 0 0 0 2.818-2H9.182A2.980 2.980 0 0 0 12 22z"/></svg></div>
    <div class="ab n" style="left:1139px"><svg class="s16" width="16" height="16" viewBox="0 0 24 24" fill="#475569"><path d="m12 16 4-5h-3V4h-2v7H8z M20 18H4v-7H2v7c0 1.103.897 2 2 2h16c1.103 0 2-.897 2-2v-7h-2v7z"/></svg></div>
    <div class="ab r" style="left:1180px"><svg class="s16" width="16" height="16" viewBox="0 0 24 24" fill="#f43f5e"><path d="M5 20a2 2 0 0 0 2 2h10a2 2 0 0 0 2-2V8h2V6h-4V4a2 2 0 0 0-2-2H9a2 2 0 0 0-2 2v2H3v2h2zM9 4h6v2H9zM8 8h9v12H7V8z M9 10h2v8H9zm4 0h2v8h-2z"/></svg></div>
  </div>


</div>
</body>
</html>
